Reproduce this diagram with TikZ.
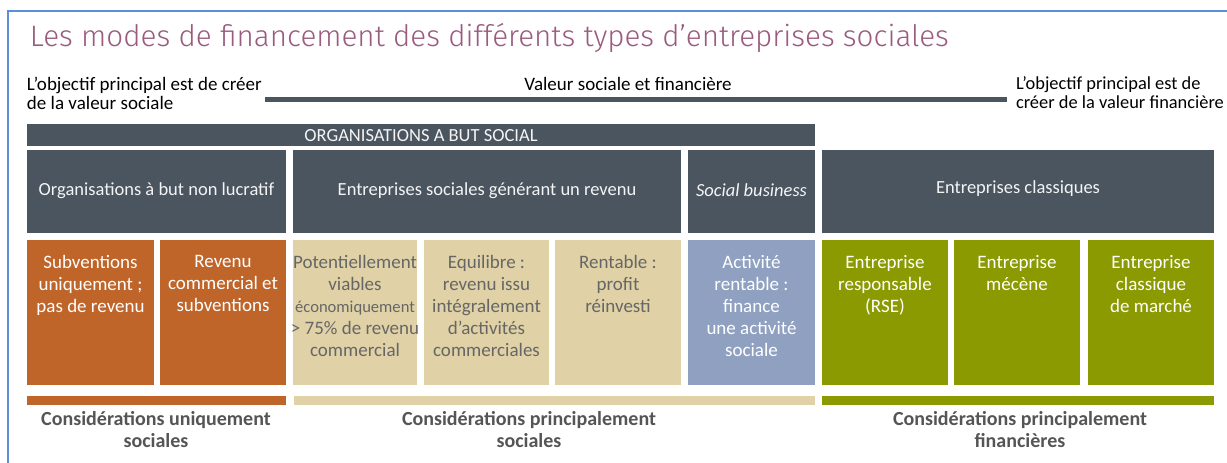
\documentclass[tikz,border=0pt]{standalone}
\usepackage{fontspec}
\setmainfont{Carlito}
\newfontfamily\titlefont{Fira Sans Light}
\usetikzlibrary{fit}
\definecolor{dark}{HTML}{4A5560}
\definecolor{orng}{HTML}{BF6529}
\definecolor{tan}{HTML}{E0D2A6}
\definecolor{slateblue}{HTML}{8FA0C0}
\definecolor{olive}{HTML}{8A9A00}
\definecolor{tantext}{HTML}{666666}
\definecolor{bottext}{HTML}{555555}
\definecolor{frameblue}{HTML}{5B8FD6}
\definecolor{titlecol}{HTML}{9A5B7E}
\definecolor{hdrtext}{HTML}{F4F4F4}
\begin{document}
\begin{tikzpicture}[x=1pt,y=-1pt,
  every node/.style={inner sep=0pt,outer sep=0pt},
  cell/.style={inner sep=0pt,outer sep=0pt,draw=none},
  hdrtxt/.style={anchor=center,text=hdrtext,font=\fontsize{18.5}{21}\selectfont},
  ctext/.style={align=center,anchor=north,font=\fontsize{19}{22}\selectfont},
  toptext/.style={align=left,anchor=north west,font=\fontsize{19}{19}\selectfont},
  bottxt/.style={align=center,anchor=north,text=bottext,font=\bfseries\fontsize{20}{22}\selectfont}
]
\useasboundingbox (0,0) rectangle (1227,463);
\fill[white] (0,0) rectangle (1227,463);
% frame
\draw[frameblue,line width=2pt] (8,463) -- (8,11) -- (1227,11);
% title
\node[anchor=base west,text=titlecol,font=\titlefont\fontsize{29.6}{31}\selectfont] (title) at (30,46) {Les modes de financement des différents types d’entreprises sociales};
% top row
\node[toptext] (lefttxt) at (27,77) {L’objectif principal est de créer\\de la valeur sociale};
\node[anchor=north,font=\fontsize{19}{19}\selectfont] (mid) at (628,77) {Valeur sociale et financière};
\node[toptext,font=\fontsize{18.4}{19}\selectfont] (righttxt) at (1016,77) {L’objectif principal est de\\créer de la valeur financière};
\node[cell,fill=dark,fit={(265,97) (1007,102)}] (axis) {};
% organisations a but social
\node[cell,fill=dark,fit={(27,124) (815,146)}] (org) {};
\node[hdrtxt] (orgt) at ([yshift=-1pt]org.center) {ORGANISATIONS A BUT SOCIAL};
% headers
\node[cell,fill=dark,fit={(27,150) (286,233)}] (h1) {};
\node[cell,fill=dark,fit={(293,150) (681,233)}] (h2) {};
\node[cell,fill=dark,fit={(688,150) (815,233)}] (h3) {};
\node[cell,fill=dark,fit={(822,150) (1214,233)}] (h4) {};
\node[hdrtxt] (h1t) at ([yshift=1pt]h1.center) {Organisations à but non lucratif};
\node[hdrtxt] (h2t) at ([yshift=1pt]h2.center) {Entreprises sociales générant un revenu};
\node[hdrtxt] (h3t) at ([yshift=1pt]h3.center) {\itshape Social business};
\node[hdrtxt] (h4t) at ([yshift=3pt]h4.center) {Entreprises classiques};
% content boxes
\node[cell,fill=orng,fit={(27,240) (154,385)}] (a) {};
\node[cell,fill=orng,fit={(160,240) (286,385)}] (b) {};
\node[cell,fill=tan,fit={(293,240) (417,385)}] (c) {};
\node[cell,fill=tan,fit={(424,240) (549,385)}] (d) {};
\node[cell,fill=tan,fit={(555,240) (681,385)}] (e) {};
\node[cell,fill=slateblue,fit={(688,240) (815,385)}] (f) {};
\node[cell,fill=olive,fit={(822,240) (948,385)}] (g) {};
\node[cell,fill=olive,fit={(954,240) (1080,385)}] (h) {};
\node[cell,fill=olive,fit={(1088,240) (1214,385)}] (i) {};
% content text
\node[ctext,text=white] (ta) at ([yshift=-15pt]a.north) {Subventions\\uniquement ;\\pas de revenu};
\node[ctext,text=white] (tb) at ([yshift=-15pt]b.north) {Revenu\\commercial et\\subventions};
\node[ctext,text=tantext] (tc) at ([yshift=-15pt]c.north) {Potentiellement\\viables\\{\fontsize{16.6}{22}\selectfont économiquement}\\> 75\% de revenu\\commercial};
\node[ctext,text=tantext] (td) at ([yshift=-15pt]d.north) {Equilibre :\\revenu issu\\intégralement\\d’activités\\commerciales};
\node[ctext,text=tantext] (te) at ([yshift=-15pt]e.north) {Rentable :\\profit\\réinvesti};
\node[ctext,text=white] (tf) at ([yshift=-15pt]f.north) {Activité\\rentable :\\finance\\une activité\\sociale};
\node[ctext,text=white] (tg) at ([yshift=-15pt]g.north) {Entreprise\\responsable\\(RSE)};
\node[ctext,text=white] (th) at ([yshift=-15pt]h.north) {Entreprise\\mécène};
\node[ctext,text=white] (ti) at ([yshift=-15pt]i.north) {Entreprise\\classique\\de marché};
% bottom bars
\node[cell,fill=orng,fit={(27,396) (286,405)}] (bar1) {};
\node[cell,fill=tan,fit={(294,396) (815,405)}] (bar2) {};
\node[cell,fill=olive,fit={(822,396) (1214,405)}] (bar3) {};
% bottom text
\node[bottxt] (b1) at (156,411) {Considérations uniquement\\sociales};
\node[bottxt] (b2) at (529,411) {Considérations principalement\\sociales};
\node[bottxt] (b3) at (1020,411) {Considérations principalement\\financières};
\end{tikzpicture}
\end{document}
